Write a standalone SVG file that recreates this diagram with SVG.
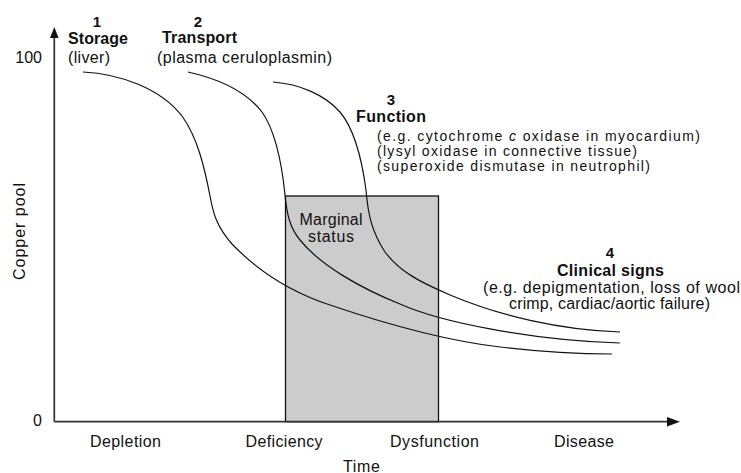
<svg xmlns="http://www.w3.org/2000/svg" width="741" height="473" viewBox="0 0 741 473">
<style>
text{font-family:"Liberation Sans",Arial,sans-serif;font-size:16px;fill:#111}
.b{font-weight:bold}
.m{text-anchor:middle}
.e{text-anchor:end}
.s{font-size:14px}
.curve{fill:none;stroke:#111;stroke-width:1.2}
.axis{fill:none;stroke:#333;stroke-width:1.7}
</style>
<rect width="741" height="473" fill="#fff"/>
<g id="marginal">
<rect x="285.5" y="196" width="153" height="225.7" fill="#cccccc" stroke="#111" stroke-width="1.3"/>
<text class="m" x="331" y="225" textLength="63">Marginal</text>
<text class="m" x="331" y="242" textLength="46">status</text>
</g>
<g id="curves">
<path class="curve" d="M83,72 C120,74 160,88 182,116 C198,138 205,170 210,196 C213,212 216,226 232,244 C255,268 285,290 330,305 C380,322 440,340 500,347 C540,352 580,354 612,354"/>
<path class="curve" d="M188,72 C215,78 245,90 262,112 C276,132 282,165 285,195 C287,215 290,228 300,240 C320,265 360,288 400,304 C440,322 530,340 620,343"/>
<path class="curve" d="M273,82 C300,84 325,95 340,112 C355,130 362,160 366,190 C368,215 372,232 385,252 C400,272 420,282 450,295 C500,316 560,330 620,332"/>
</g>
<g id="axes">
<line class="axis" x1="54.3" y1="421.7" x2="54.3" y2="36"/>
<polygon points="54.3,27 50,38 58.6,38" fill="#111"/>
<line class="axis" x1="54.3" y1="421.7" x2="670" y2="421.7"/>
<polygon points="680,421.7 667,417 667,426.4" fill="#111"/>
<text class="e" x="42" y="63">100</text>
<text class="e" x="42" y="426">0</text>
<text class="m" transform="translate(25,231.5) rotate(-90)" x="0" y="0" textLength="97">Copper pool</text>
<text x="90" y="446.5" textLength="71">Depletion</text>
<text x="245.5" y="446.5" textLength="77">Deficiency</text>
<text x="390" y="446.5" textLength="89">Dysfunction</text>
<text x="554" y="446.5" textLength="60">Disease</text>
<text x="343" y="471.5" textLength="37">Time</text>
</g>
<g id="storage">
<text class="b m" x="97" y="27" style="font-size:15px">1</text>
<text class="b" x="68" y="44" textLength="60">Storage</text>
<text x="68" y="63" textLength="42">(liver)</text>
</g>
<g id="transport">
<text class="b m" x="198" y="27" style="font-size:15px">2</text>
<text class="b" x="162" y="43" textLength="75">Transport</text>
<text x="157" y="63" textLength="175">(plasma ceruloplasmin)</text>
</g>
<g id="function">
<text class="b m" x="391" y="105" style="font-size:15px">3</text>
<text class="b" x="356" y="121.5" textLength="70">Function</text>
<text class="s" x="377" y="141" textLength="323">(e.g. cytochrome <tspan font-style="italic">c</tspan> oxidase in myocardium)</text>
<text class="s" x="377" y="156" textLength="260">(lysyl oxidase in connective tissue)</text>
<text class="s" x="377" y="171" textLength="273">(superoxide dismutase in neutrophil)</text>
</g>
<g id="clinical">
<text class="b m" x="610" y="258" style="font-size:15px">4</text>
<text class="b m" x="610.5" y="275.5" textLength="107">Clinical signs</text>
<text class="m" x="611.5" y="293" textLength="257">(e.g. depigmentation, loss of wool</text>
<text class="m" x="609.5" y="309" textLength="201">crimp, cardiac/aortic failure)</text>
</g>
</svg>
